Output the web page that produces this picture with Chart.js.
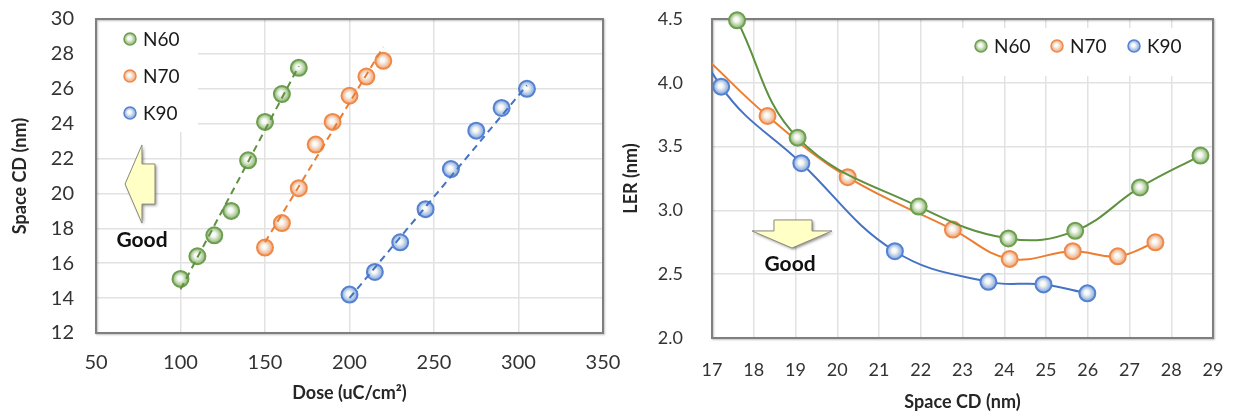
<!DOCTYPE html>
<html>
<head>
<meta charset="utf-8">
<script src="https://cdn.jsdelivr.net/npm/chart.js@4.4.1/dist/chart.umd.min.js"></script>
<style>
body{margin:0;background:#fff;width:1233px;height:415px;overflow:hidden}
#left{position:absolute;left:0;top:0}
#right{position:absolute;left:620px;top:0}
</style>
</head>
<body>
<div id="left"><canvas id="doseChart" width="620" height="415"></canvas></div>
<div id="right"><canvas id="lerChart" width="613" height="415"></canvas></div>
<script>

// ---- left chart: space CD vs dose
const doseN60 = [100,110,120,130,140,150,160,170]
const cdN60 = [15.1,16.4,17.6,19.0,21.9,24.1,25.7,27.2]
const doseN70 = [150,160,170,180,190,200,210,220]
const cdN70 = [16.9,18.3,20.3,22.8,24.1,25.6,26.7,27.6]
const doseK90 = [200,215,230,245,260,275,290,305]
const cdK90 = [14.2,15.5,17.2,19.1,21.4,23.6,24.9,26.0]

// dashed trend lines, end points
const trendDoseN60 = [100,170]
const trendCdN60 = [14.5,27.3]
const trendDoseN70 = [150,220]
const trendCdN70 = [17.2,28.4]
const trendDoseK90 = [200,305]
const trendCdK90 = [14.0,26.2]

const doseTicks = [50,100,150,200,250,300,350]
const cdTicks = [12,14,16,18,20,22,24,26,28,30]

// ---- right chart: LER vs space CD (first points of N70/K90 sit left of the axis)
const spaceN60 = [17.6,19.05,21.95,24.1,25.7,27.25,28.7]
const lerN60 = [4.49,3.57,3.03,2.78,2.84,3.18,3.43]
const spaceN70 = [16.93,18.33,20.25,22.77,24.13,25.64,26.72,27.62]
const lerN70 = [4.17,3.74,3.26,2.85,2.62,2.68,2.64,2.75]
const spaceK90 = [15.5,17.22,19.14,21.38,23.62,24.94,25.99]
const lerK90 = [5.1,3.97,3.37,2.68,2.44,2.42,2.35]

const spaceTicks = [17,18,19,20,21,22,23,24,25,26,27,28,29]
const lerTicks = [2.0,2.5,3.0,3.5,4.0,4.5]

const names = ["N60","N70","K90"]

const colors = {
    N60: {line:"#5E9140", edge:"#6E9E4F", fill:"#86B368"},
    N70: {line:"#ED7D31", edge:"#EE8A48", fill:"#F4A070"},
    K90: {line:"#4472C4", edge:"#5582D0", fill:"#7FA3E0"}
}

Chart.defaults.font.family = "Lato"
Chart.defaults.color = "#262626"
Chart.defaults.animation = false
Chart.defaults.events = []

function pts(xs, ys){
    return xs.map(function(x, i){ return {x:x, y:ys[i]} })
}

function ballFill(g, x, y, r, c){
    const grad = g.createRadialGradient(x-1, y-1, 0, x, y, r)
    grad.addColorStop(0, "#ffffff")
    grad.addColorStop(0.3, "#f4f7f2")
    grad.addColorStop(1, c)
    return grad
}

function ball(c){
    return function(ctx){
        const chart = ctx.chart
        if(!ctx.raw || !chart.scales.x) return c
        const x = chart.scales.x.getPixelForValue(ctx.raw.x)
        const y = chart.scales.y.getPixelForValue(ctx.raw.y)
        if(!isFinite(x) || !isFinite(y)) return c
        return ballFill(chart.ctx, x, y, 8, c)
    }
}

function drawBall(g, x, y, r, col){
    g.save()
    g.beginPath()
    g.arc(x, y, r, 0, Math.PI*2)
    g.fillStyle = ballFill(g, x, y, r, col.fill)
    g.fill()
    g.lineWidth = 1.5
    g.strokeStyle = col.edge
    g.stroke()
    g.restore()
}

function drawArrow(chart, poly, label, labelAt){
    const g = chart.ctx
    const sx = chart.scales.x, sy = chart.scales.y
    g.save()
    g.beginPath()
    poly.forEach(function(p, i){
        const px = sx.getPixelForValue(p[0]), py = sy.getPixelForValue(p[1])
        if(i == 0) g.moveTo(px, py)
        else g.lineTo(px, py)
    })
    g.closePath()
    g.shadowColor = "rgba(0,0,0,0.45)"
    g.shadowBlur = 3
    g.shadowOffsetX = 1.5
    g.shadowOffsetY = 1.5
    g.fillStyle = "#FFFFC6"
    g.fill()
    g.shadowColor = "transparent"
    g.lineWidth = 1
    g.strokeStyle = "#8a8a7a"
    g.stroke()
    g.font = "bold 21px Lato"
    g.fillStyle = "#111"
    g.textAlign = "center"
    g.textBaseline = "middle"
    g.fillText(label, sx.getPixelForValue(labelAt[0]), sy.getPixelForValue(labelAt[1]))
    g.restore()
}

// white legend box + plot frame
const framePlugin = {
    id: "frame",
    beforeDatasetsDraw(chart, args, opts){
        const g = chart.ctx
        const a = chart.chartArea
        const lg = opts.legend
        g.save()
        g.fillStyle = "#fff"
        if(lg.vertical) g.fillRect(a.left+1, a.top+1, lg.w, lg.h)
        else g.fillRect(a.right - lg.w, a.top + lg.y, lg.w - 6, lg.h)
        g.shadowColor = "rgba(0,0,0,0.25)"
        g.shadowBlur = 2
        g.shadowOffsetX = 1
        g.shadowOffsetY = 1
        g.lineWidth = 2
        g.strokeStyle = "#7f7f7f"
        g.strokeRect(a.left, a.top, a.right - a.left, a.bottom - a.top)
        g.restore()
    },
    afterDatasetsDraw(chart, args, opts){
        const g = chart.ctx
        const a = chart.chartArea
        const lg = opts.legend
        g.save()
        g.font = lg.size + "px Lato"
        g.fillStyle = "#1a1a1a"
        g.textBaseline = "middle"
        names.forEach(function(n, i){
            let mx, my
            if(lg.vertical){
                mx = a.left + 34
                my = a.top + 20 + i*37
            } else {
                mx = a.right + lg.xs[i]
                my = a.top + 27
            }
            drawBall(g, mx, my, 6, colors[n])
            g.fillStyle = "#1a1a1a"
            g.fillText(n, mx + 13, my + 1)
        })
        g.restore()
        drawArrow(chart, opts.arrow, "Good", opts.arrowText)
    }
}

function pointSet(name, xs, ys){
    const c = colors[name]
    return {
        label: name,
        data: pts(xs, ys),
        showLine: false,
        pointRadius: 8,
        pointBorderWidth: 2,
        pointBorderColor: c.edge,
        pointBackgroundColor: ball(c.fill)
    }
}

function trendSet(name, xs, ys){
    return {
        label: name + " trend",
        data: pts(xs, ys),
        showLine: true,
        borderColor: colors[name].line,
        borderWidth: 2,
        borderDash: [7,5],
        pointRadius: 0,
        fill: false
    }
}

function curveSet(name, xs, ys){
    const c = colors[name]
    return {
        label: name,
        data: pts(xs, ys),
        showLine: true,
        tension: 0.4,
        borderColor: c.line,
        borderWidth: 2,
        pointRadius: function(ctx){ return ctx.raw && ctx.raw.x < spaceTicks[0] ? 0 : 8 },
        pointBorderWidth: 2,
        pointBorderColor: c.edge,
        pointBackgroundColor: ball(c.fill),
        clip: {left:0, top:12, right:12, bottom:12}
    }
}

function tickList(values){
    return function(scale){
        scale.ticks = values.map(function(v){ return {value:v} })
    }
}

// fixed axis sizes, and no extra room for label overhang (layout padding handles it)
function fixX(h){
    return function(s){ s.height = h; s.paddingLeft = 0; s.paddingRight = 0 }
}
function fixY(w){
    return function(s){ s.width = w; s.paddingTop = 0; s.paddingBottom = 0 }
}

new Chart(document.getElementById("doseChart"), {
    type: "scatter",
    data: {
        datasets: [
            trendSet("N60", trendDoseN60, trendCdN60),
            trendSet("N70", trendDoseN70, trendCdN70),
            trendSet("K90", trendDoseK90, trendCdK90),
            pointSet("N60", doseN60, cdN60),
            pointSet("N70", doseN70, cdN70),
            pointSet("K90", doseK90, cdK90)
        ]
    },
    options: {
        responsive: false,
        layout: {padding: {top:19, right:17, left:0, bottom:0}},
        plugins: {
            legend: {display:false},
            tooltip: {enabled:false},
            frame: {
                legend: {vertical:true, w:101, h:112, size:19},
                arrow: [[67.2,20.54],[77.2,22.78],[77.2,21.69],[84.9,21.69],[84.9,19.39],[77.2,19.39],[77.2,18.30]],
                arrowText: [77.2,17.3]
            }
        },
        scales: {
            x: {
                type: "linear",
                min: doseTicks[0],
                max: doseTicks[doseTicks.length-1],
                afterBuildTicks: tickList(doseTicks),
                afterFit: fixX(82),
                grid: {color:"#e2e2e2", lineWidth:1.5, drawTicks:false},
                border: {display:false},
                ticks: {padding:18, font:{size:20}, color:"#333"},
                title: {display:true, text:"Dose (uC/cm²)", font:{size:18, weight:"bold"}, padding:{top:0, bottom:11}, color:"#262626"}
            },
            y: {
                min: cdTicks[0],
                max: cdTicks[cdTicks.length-1],
                afterBuildTicks: tickList(cdTicks),
                afterFit: fixY(96),
                grid: {color:"#e2e2e2", lineWidth:1.5, drawTicks:false},
                border: {display:false},
                ticks: {padding:22, font:{size:20}, color:"#333"},
                title: {display:true, text:"Space CD (nm)", font:{size:18, weight:"bold"}, padding:{top:9, bottom:0}, color:"#262626"}
            }
        }
    },
    plugins: [framePlugin]
})

new Chart(document.getElementById("lerChart"), {
    type: "scatter",
    data: {
        datasets: [
            curveSet("N60", spaceN60, lerN60),
            curveSet("N70", spaceN70, lerN70),
            curveSet("K90", spaceK90, lerK90)
        ]
    },
    options: {
        responsive: false,
        layout: {padding: {top:19, right:20, left:0, bottom:0}},
        plugins: {
            legend: {display:false},
            tooltip: {enabled:false},
            frame: {
                legend: {vertical:false, w:252, y:9, h:48, size:19, xs:[-232,-156,-79]},
                arrow: [[18.485,2.925],[19.395,2.925],[19.395,2.839],[19.874,2.839],[18.916,2.705],[17.958,2.839],[18.485,2.839]],
                arrowText: [18.87,2.58]
            }
        },
        scales: {
            x: {
                type: "linear",
                min: spaceTicks[0],
                max: spaceTicks[spaceTicks.length-1],
                afterBuildTicks: tickList(spaceTicks),
                afterFit: fixX(77),
                grid: {color:"#e2e2e2", lineWidth:1.5, drawTicks:false},
                border: {display:false},
                ticks: {padding:21, font:{size:18}, color:"#333"},
                title: {display:true, text:"Space CD (nm)", font:{size:18, weight:"bold"}, padding:{top:0, bottom:2}, color:"#262626"}
            },
            y: {
                min: lerTicks[0],
                max: lerTicks[lerTicks.length-1],
                afterBuildTicks: tickList(lerTicks),
                afterFit: fixY(92),
                grid: {color:"#e2e2e2", lineWidth:1.5, drawTicks:false},
                border: {display:false},
                ticks: {padding:29, font:{size:18}, color:"#333", callback: function(v){ return v.toFixed(1) }},
                title: {display:true, text:"LER (nm)", font:{size:18, weight:"bold"}, padding:{top:0, bottom:0}, color:"#262626"}
            }
        }
    },
    plugins: [framePlugin]
})

</script>
</body>
</html>
